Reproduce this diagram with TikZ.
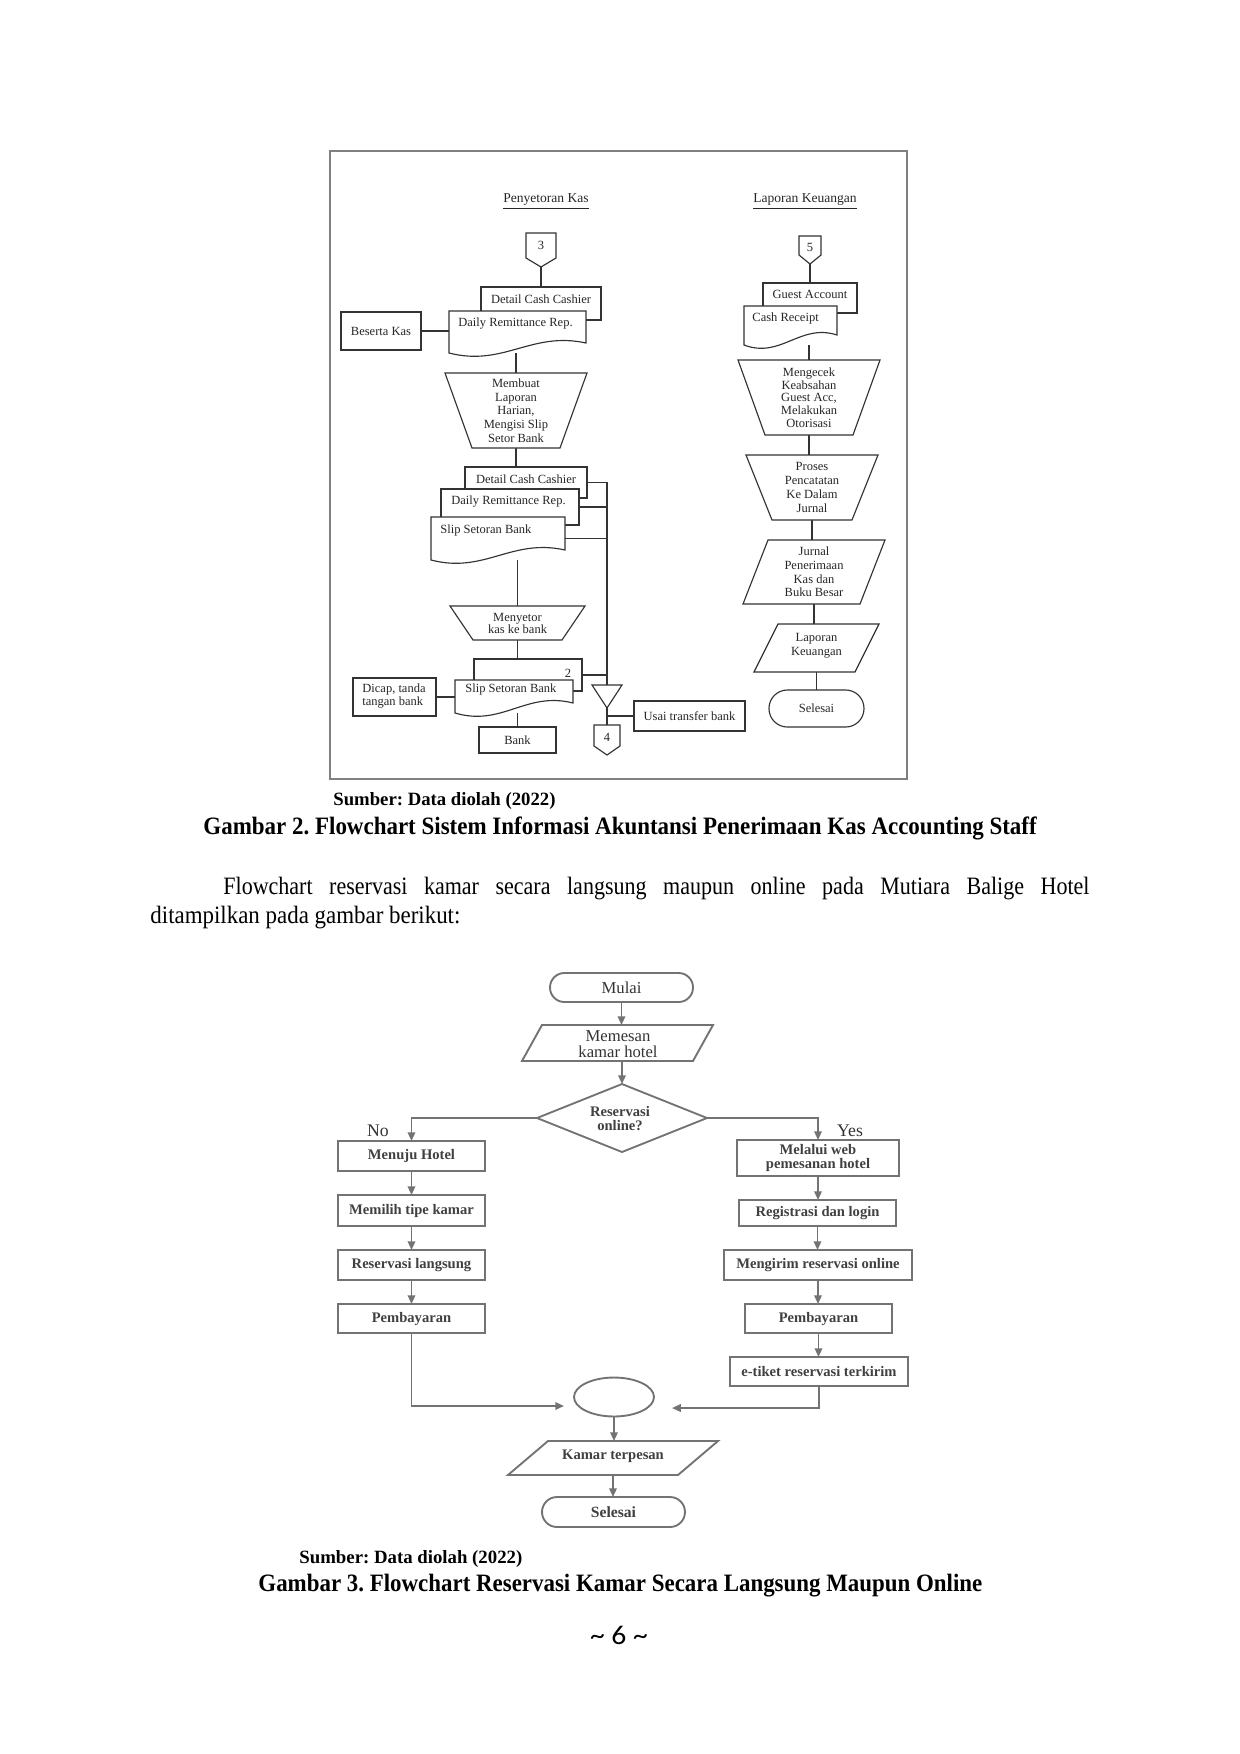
\documentclass[tikz,border=0pt]{standalone}
\usepackage{fontspec}
\usepackage{graphicx}
\setmainfont{Liberation Serif}
\newfontfamily\pagefont{Carlito}
\usetikzlibrary{fit,calc,arrows.meta,shapes.geometric}
\pgfdeclarelayer{bg}
\pgfsetlayers{bg,main}
\frenchspacing
% fitted box: [opts]{x1,y1}{x2,y2}{name}{text}; the text goes in a node (name-t) at its centre
\newcommand\fb[5][]{\node[inner sep=0pt,outer sep=0pt,fit={(#2)(#3)},#1] (#4) {};
  \node[#1,draw=none,fill=none,inner sep=0pt,outer sep=0pt,align=center] (#4-t) at (#4.center) {#5};}
% document shape outline around a fitted node
\newcommand\docp[2][]{\draw[#1] (#2.north west) -- (#2.north east) -- ($(#2.south east)+(0,-10)$) .. controls ($(#2.south west)!0.6!(#2.south east)+(0,-22)$) and ($(#2.south west)!0.4!(#2.south east)+(0,14)$) .. (#2.south west) -- cycle;}
% inverted trapezoid (manual operation)
\newcommand\trap[3][]{\draw[#1] (#2.north west) -- (#2.north east) -- ($(#2.south east)+(-#3,0)$) -- ($(#2.south west)+(#3,0)$) -- cycle;}
% parallelogram
\newcommand\parashape[3][]{\draw[#1] ($(#2.north west)+(#3,0)$) -- (#2.north east) -- ($(#2.south east)+(-#3,0)$) -- (#2.south west) -- cycle;}
% off-page connector
\newcommand\offp[2][]{\draw[#1] (#2.north west) -- (#2.north east) -- ($(#2.south east)+(0,-9)$) -- (#2.south) -- ($(#2.south west)+(0,-9)$) -- cycle;}
\begin{document}
\begin{tikzpicture}[x=0.48pt,y=-0.48pt,
  tc/.style={font=\fontsize{6}{6.6}\selectfont, text=black!85, inner sep=0pt},
  tl/.style={draw=black!80, line width=0.55pt},
  tshape/.style={tl, fill=white},
  bc/.style={font=\fontsize{7}{6.7}\selectfont\bfseries, text=black!75, inner sep=0pt},
  br/.style={font=\fontsize{8}{7.7}\selectfont, text=black!80, inner sep=0pt},
  bl/.style={draw=black!55, line width=0.9pt},
  bshape/.style={bl, fill=white},
  arr/.style={bl, -{Triangle[length=4.2pt,width=3.6pt]}},
  lbl/.style={font=\fontsize{8.5}{10}\selectfont, text=black!80, inner sep=0pt},
  captxt/.style={inner sep=0pt, anchor=west},
]
\path[use as bounding box] (0,0) rectangle (1240,1754);

% ================= Figure 2 =================
\node[draw=black!50, line width=1pt, inner sep=0pt, fit={(330,151)(907,779)}] (frame) {};
\node[tc, font=\fontsize{6.5}{7}\selectfont] (t1) at (546,202) {\underline{Penyetoran Kas}};
\node[tc, font=\fontsize{6.5}{7}\selectfont] (t2) at (805,202) {\underline{Laporan Keuangan}};

% left column
\fb{526,233}{556,267}{c3}{}
\offp[tshape]{c3}
\node[tc] (c3t) at (541,245) {3};

\fb[tshape]{481,287}{601,320}{dcc1}{}
\node[tc] (dcc1t) at (541,299) {Detail Cash Cashier};
\fb{449,311}{586,353}{drr1}{}
\docp[tshape]{drr1}
\node[tc, anchor=west] (drr1t) at (458,324) {Daily Remittance Rep.};
\fb[tshape,tc]{341,312}{421,350}{bk}{Beserta Kas}

\fb{445,373}{587,448}{mlh}{}
\trap[tshape]{mlh}{27}
\node[tc, align=center] (mlht) at (mlh) {Membuat\\Laporan\\Harian,\\Mengisi Slip\\Setor Bank};

\fb[tshape]{465,467}{587,498}{dcc2}{}
\node[tc] (dcc2t) at (526,479) {Detail Cash Cashier};
\fb[tshape]{441,489}{579,525}{drr2}{}
\node[tc, anchor=west] (drr2t) at (451,502) {Daily Remittance Rep.};
\fb{431,517}{565,560}{ssb1}{}
\docp[tshape]{ssb1}
\node[tc, anchor=west] (ssb1t) at (440,530) {Slip Setoran Bank};

\fb{450,606}{585,640}{mkb}{}
\trap[tshape]{mkb}{23}
\node[tc, align=center, font=\fontsize{6}{5.8}\selectfont] (mkbt) at (mkb) {Menyetor\\kas ke bank};

\fb[tshape]{474,659}{582,691}{b2}{}
\node[tc] (b2t) at (568,673) {2};
\fb{455,680}{573,713}{ssb2}{}
\docp[tshape]{ssb2}
\node[tc, anchor=west] (ssb2t) at (465,689) {Slip Setoran Bank};
\fb[tshape]{353,678}{436,716}{dtb}{}
\node[tc, anchor=west, align=left] (dtbt) at (362,696) {Dicap, tanda\\tangan bank};
\fb[tshape,tc]{479,727}{556,753}{bank}{Bank}

\fb{592,685}{622,708}{tri}{}
\draw[tshape] (tri.north west) -- (tri.north east) -- (tri.south) -- cycle;
\fb{594,725}{620,755}{c4}{}
\offp[tshape]{c4}
\node[tc] (c4t) at (607,737) {4};
\fb[tshape,tc]{634,701}{745,731}{usai}{Usai transfer bank}

% right column
\fb{799,236}{821,264}{c5}{}
\offp[tshape]{c5}
\node[tc] (c5t) at (810,247) {5};
\fb[tshape]{763,283}{857,313}{ga}{}
\node[tc] (gat) at (810,294) {Guest Account};
\fb{744,306}{837,345}{cr}{}
\docp[tshape]{cr}
\node[tc, anchor=west] (crt) at (752,318) {Cash Receipt};

\fb{738,360}{880,435}{mck}{}
\trap[tshape]{mck}{27}
\node[tc, align=center, font=\fontsize{6}{6.1}\selectfont] (mckt) at (mck) {Mengecek\\Keabsahan\\Guest Acc,\\Melakukan\\Otorisasi};
\fb{746,455}{878,520}{prc}{}
\trap[tshape]{prc}{26}
\node[tc, align=center] (prct) at (prc) {Proses\\Pencatatan\\Ke Dalam\\Jurnal};
\fb{743,540}{885,604}{jpk}{}
\parashape[tshape]{jpk}{25}
\node[tc, align=center] (jpkt) at (jpk) {Jurnal\\Penerimaan\\Kas dan\\Buku Besar};
\fb{754,624}{879,672}{lk}{}
\parashape[tshape]{lk}{24}
\node[tc, align=center] (lkt) at ($(lk)+(0,-2)$) {Laporan\\Keuangan};
\fb[tshape,tc,rounded corners=8.8pt]{769,690}{864,727}{sel1}{Selesai}

% ================= Figure 3 =================
\fb[bshape,br,rounded corners=6.9pt]{550,973}{693,1002}{mulai}{Mulai}
\fb{522,1025}{713,1061}{mem}{}
\parashape[bshape]{mem}{20}
\node[br, align=center] (memt) at (618,1044) {Memesan\\kamar hotel};
\fb{537,1084}{707,1152}{dia}{}
\draw[bshape] (dia.north) -- (dia.east) -- (dia.south) -- (dia.west) -- cycle;
\node[bc, align=center] (diat) at (620,1119) {Reservasi\\online?};

\fb[bshape,bc]{338,1141}{485,1171}{mh}{Menuju Hotel}
\fb[bshape,bc]{338,1195}{485,1226}{mtk}{Memilih tipe kamar}
\fb[bshape,bc]{338,1250}{485,1280}{rl}{Reservasi langsung}
\fb[bshape,bc]{338,1304}{485,1333}{pb1}{Pembayaran}

\fb[bshape,bc]{737,1140}{899,1176}{mw}{Melalui web\\pemesanan hotel}
\fb[bshape,bc]{739,1200}{896,1226}{rdl}{Registrasi dan login}
\fb[bshape,bc]{724,1250}{912,1280}{mro}{Mengirim reservasi online}
\fb[bshape,bc]{745,1304}{892,1333}{pb2}{Pembayaran}
\fb[bshape,bc]{730,1357}{908,1386}{et}{e-tiket reservasi terkirim}

\node[bshape, ellipse, minimum width=38.4pt, minimum height=18.7pt, inner sep=0pt] (conn) at (614,1397) {};
\fb{508,1441}{718,1475}{kt}{}
\parashape[bshape]{kt}{40}
\node[bc] (ktt) at (613,1456) {Kamar terpesan};
\fb[bshape,bc,font=\fontsize{7.5}{8}\selectfont\bfseries,rounded corners=7.2pt]{542,1497}{685,1527}{sel2}{Selesai}

\node[lbl] (no) at (378,1131) {No};
\node[lbl] (yes) at (850,1131) {Yes};
\coordinate (la) at (564,1406);
\coordinate (ra) at (672,1408);

% ================= connectors =================
\begin{pgfonlayer}{bg}
\draw[tl] (c3.south) -- (dcc1.north);
\draw[tl] (bk.east) -- (bk.east -| drr1.west);
\draw[tl] (mlh.north |- drr1.south) -- (mlh.north);
\draw[tl] (mlh.south) -- (mlh.south |- dcc2.north);
\draw[tl] (dcc2.east) -| (tri.north);
\draw[tl] (drr2.east) -- (drr2.east -| tri.north);
\draw[tl] (ssb1.east) -- (ssb1.east -| tri.north);
\draw[tl] (mkb.north |- ssb1.south) -- (mkb.north);
\draw[tl] (mkb.south) -- (mkb.south |- b2.north);
\draw[tl] (b2.east) -- (b2.east -| tri.north);
\draw[tl] (dtb.east) -- (dtb.east -| ssb2.west);
\draw[tl] (bank.north |- ssb2.south) -- (bank.north);
\draw[tl] (tri.south) -- (c4.north);
\draw[tl] (usai.west -| tri.south) -- (usai.west);
\draw[tl] (c5.south) -- (ga.north);
\draw[tl] (mck.north |- cr.south) -- (mck.north);
\draw[tl] (mck.south) -- (mck.south |- prc.north);
\draw[tl] (prc.south) -- (prc.south |- jpk.north);
\draw[tl] (jpk.south) -- (jpk.south |- lk.north);
\draw[tl] (lk.south) -- (lk.south |- sel1.north);

\draw[arr] (mulai.south) -- (mulai.south |- mem.north);
\draw[arr] (dia.north |- mem.south) -- (dia.north);
\draw[arr] (dia.west) -| (mh.north);
\draw[arr] (dia.east) -| (mw.north);
\draw[arr] (mh.south) -- (mh.south |- mtk.north);
\draw[arr] (mtk.south) -- (mtk.south |- rl.north);
\draw[arr] (rl.south) -- (rl.south |- pb1.north);
\draw[arr] (mw.south) -- (mw.south |- rdl.north);
\draw[arr] (rdl.south) -- (rdl.south |- mro.north);
\draw[arr] (mro.south) -- (mro.south |- pb2.north);
\draw[arr] (pb2.south) -- (pb2.south |- et.north);
\draw[arr] (pb1.south) |- (la);
\draw[arr] (et.south) |- (ra);
\draw[arr] (conn.south) -- (conn.south |- kt.north);
\draw[arr] (kt.south) -- (kt.south |- sel2.north);
\end{pgfonlayer}

% ================= captions and text =================
\node[captxt] (src1) at (333,801) {\fontsize{9}{11}\selectfont\bfseries\resizebox{106.6pt}{\height}{Sumber: Data diolah (2022)}};
\node[captxt] (fig2) at (203,828) {\fontsize{12}{14}\selectfont\bfseries\resizebox{400pt}{\height}{Gambar 2. Flowchart Sistem Informasi Akuntansi Penerimaan Kas Accounting Staff}};
\node[captxt] (par1) at (223,889) {\fontsize{12}{14}\selectfont\resizebox{415.7pt}{\height}{\makebox[472pt][s]{Flowchart reservasi kamar secara langsung maupun online pada Mutiara Balige Hotel}}};
\node[captxt] (par2) at (150,918) {\fontsize{12}{14}\selectfont\resizebox{148.8pt}{\height}{ditampilkan pada gambar berikut:}};
\node[captxt] (src2) at (299,1559) {\fontsize{9}{11}\selectfont\bfseries\resizebox{107pt}{\height}{Sumber: Data diolah (2022)}};
\node[captxt] (fig3) at (258,1586) {\fontsize{12}{14}\selectfont\bfseries\resizebox{347.5pt}{\height}{Gambar 3. Flowchart Reservasi Kamar Secara Langsung Maupun Online}};
\node[inner sep=0pt] (pg) at (619,1635) {\pagefont\fontsize{13}{15}\selectfont\resizebox{27.8pt}{\height}{\textasciitilde{} 6 \textasciitilde}};
\end{tikzpicture}
\end{document}
